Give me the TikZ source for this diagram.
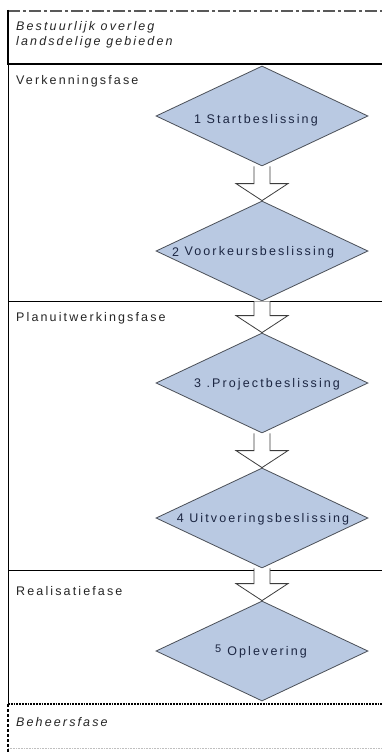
\documentclass[tikz,border=0pt]{standalone}
\usepackage{fontspec}
\newfontfamily\diafont{Liberation Sans}[LetterSpace=17]
\usetikzlibrary{shapes.geometric,calc}
\definecolor{diafill}{HTML}{B9C9E2}
\definecolor{diaborder}{HTML}{4A4F57}
\definecolor{navy}{HTML}{1C2642}
\definecolor{arrowgray}{HTML}{3C3C3C}
\begin{document}
\begin{tikzpicture}[x=1pt,y=-1pt,
  dia/.style={diamond, draw=diaborder, fill=diafill, line width=0.8pt,
    minimum width=212pt, minimum height=100pt, inner sep=0pt},
  lbl/.style={font=\diafont\fontsize{12.5}{15}\selectfont, text=navy, inner sep=0pt},
  phase/.style={anchor=west, font=\diafont\fontsize{12.5}{15}\selectfont, text=black!85, inner sep=0pt},
  barrow/.style={draw=arrowgray, fill=white, line width=0.8pt, line join=miter}]
\useasboundingbox (0,0) rectangle (382,754);
\fill[white] (0,0) rectangle (382,754);
% frame
\draw[line width=1.6pt, dash pattern=on 12pt off 3pt on 3pt off 3pt, black!65] (8,11) -- (382,11);
\draw[line width=2pt] (8,10) -- (8,65);
\draw[line width=1.8pt] (8,64) -- (382,64);
\draw[line width=0.8pt] (8,64) -- (8,704);
\draw[line width=0.8pt] (8,301) -- (382,301);
\draw[line width=0.8pt] (8,570) -- (382,570);
\draw[line width=1.8pt, densely dotted] (8,704) -- (382,704);
\draw[line width=2pt, densely dashed] (8,704) -- (8,754);
\draw[line width=0.6pt, densely dotted, black!25] (8,748) -- (382,748);
% phase labels
\node[phase] (t0a) at (16,27) {\itshape Bestuurlijk overleg};
\node[phase] (t0b) at (16,42) {\itshape landsdelige gebieden};
\node[phase] (p1) at (16,81) {Verkenningsfase};
\node[phase] (p2) at (16,318) {Planuitwerkingsfase};
\node[phase] (p3) at (16,591) {Realisatiefase};
\node[phase] (p4) at (16,722) {\itshape Beheersfase};
% diamonds
\node[dia] (d1) at (262,116) {};
\node[dia] (d2) at (262,251) {};
\node[dia] (d3) at (262,383) {};
\node[dia] (d4) at (262,518) {};
\node[dia] (d5) at (262,651) {};
% block arrows
\foreach \a/\b in {d1/d2,d2/d3,d3/d4,d4/d5}{
  \draw[barrow] let \p1=(\a.south), \p2=(\b.north) in
    (\x1-8pt,\y1) -- (\x1-8pt,\y2+17pt) -- (\x1-26pt,\y2+17pt) -- (\p2)
    -- (\x1+26pt,\y2+17pt) -- (\x1+8pt,\y2+17pt) -- (\x1+8pt,\y1);
}
% diamond labels
\node[lbl] (t1) at (256,120) {1 Startbeslissing};
\node[lbl] (t2) at (253,252) {\raisebox{-1.5pt}{2} Voorkeursbeslissing};
\node[lbl] (t3) at (267,384) {3 .Projectbeslissing};
\node[lbl] (t4) at (263,519) {4 Uitvoeringsbeslissing};
\node[lbl] (t5) at (261,652) {\raisebox{3pt}{\fontsize{11}{11}\selectfont 5}\hspace{6pt}Oplevering};
\end{tikzpicture}
\end{document}
